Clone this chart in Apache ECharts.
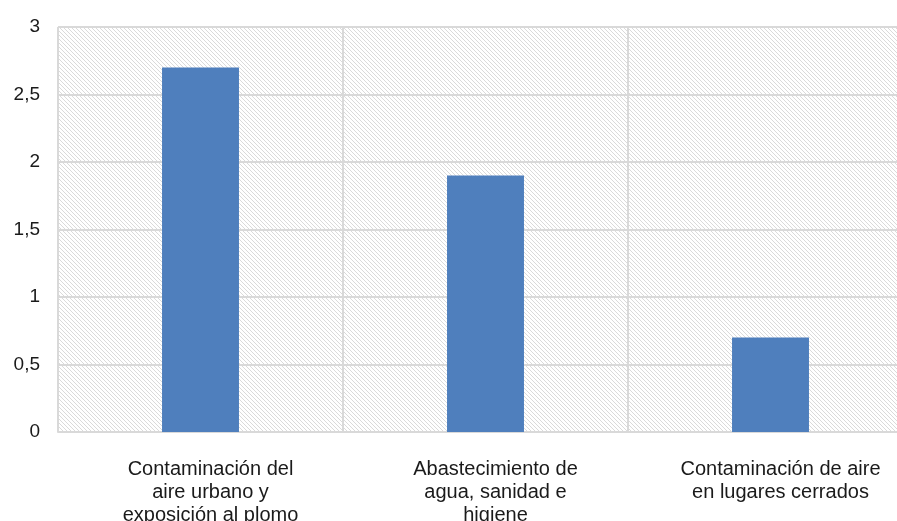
<!DOCTYPE html>
<html lang="es">
<head>
  <meta charset="UTF-8">
  <title>Barras</title>
  <script src="https://cdn.jsdelivr.net/npm/echarts@6/dist/echarts.min.js"></script>
  <style>
    html, body { margin: 0; padding: 0; background: #fff; overflow: hidden; }
  </style>
</head>
<body>
<!-- el área de trazado sigue más allá del borde derecho, como en la imagen original -->
<div id="main" style="width:913px;height:521px;"></div>
<script>
  var categorias = [
    'Contaminación del\naire urbano y\nexposición al plomo',
    'Abastecimiento de\nagua, sanidad e\nhigiene',
    'Contaminación de aire\nen lugares cerrados'
  ];
  var valores = [2.7, 1.9, 0.7];
  var ticksY = [0, 0.5, 1, 1.5, 2, 2.5, 3];

  // patrón rayado del fondo
  var tile = document.createElement('canvas');
  tile.width = 4;
  tile.height = 4;
  var ctx = tile.getContext('2d');
  ctx.fillStyle = '#ffffff';
  ctx.fillRect(0, 0, 4, 4);
  ctx.strokeStyle = '#dadada';
  ctx.lineWidth = 1;
  ctx.beginPath();
  ctx.moveTo(-1, -1);
  ctx.lineTo(5, 5);
  ctx.moveTo(-1, 3);
  ctx.lineTo(1, 5);
  ctx.moveTo(3, -1);
  ctx.lineTo(5, 1);
  ctx.stroke();

  var myChart = echarts.init(document.getElementById('main'));

  var option = {
    animation: false,
    grid: {
      left: 58, right: 0, top: 27, bottom: 89,
      outerBoundsMode: 'none', // las etiquetas pueden quedar cortadas abajo
      show: true,
      borderWidth: 0,
      backgroundColor: { image: tile, repeat: 'repeat' }
    },
    xAxis: {
      type: 'category',
      data: categorias,
      axisLine: { show: true, lineStyle: { color: '#d9d9d9', width: 2 } },
      axisTick: { show: false },
      splitLine: { show: true, lineStyle: { color: '#d9d9d9', width: 2 } },
      axisLabel: {
        interval: 0,
        margin: 26,
        padding: [0, 0, 0, 20],
        color: '#1a1a1a',
        fontFamily: 'Liberation Sans',
        fontSize: 20,
        lineHeight: 23
      }
    },
    yAxis: {
      type: 'value',
      min: ticksY[0],
      max: ticksY[ticksY.length - 1],
      interval: 0.5,
      axisLine: { show: false },
      axisTick: { show: false },
      splitLine: { lineStyle: { color: '#d9d9d9', width: 2 } },
      axisLabel: {
        margin: 18,
        color: '#1a1a1a',
        fontFamily: 'Liberation Sans',
        fontSize: 19,
        formatter: function (v) { return String(v).replace('.', ','); }
      }
    },
    series: [{
      type: 'bar',
      data: valores,
      barWidth: '27%',
      itemStyle: { color: '#4f7fbd' }
    }]
  };

  myChart.setOption(option);
</script>
</body>
</html>
